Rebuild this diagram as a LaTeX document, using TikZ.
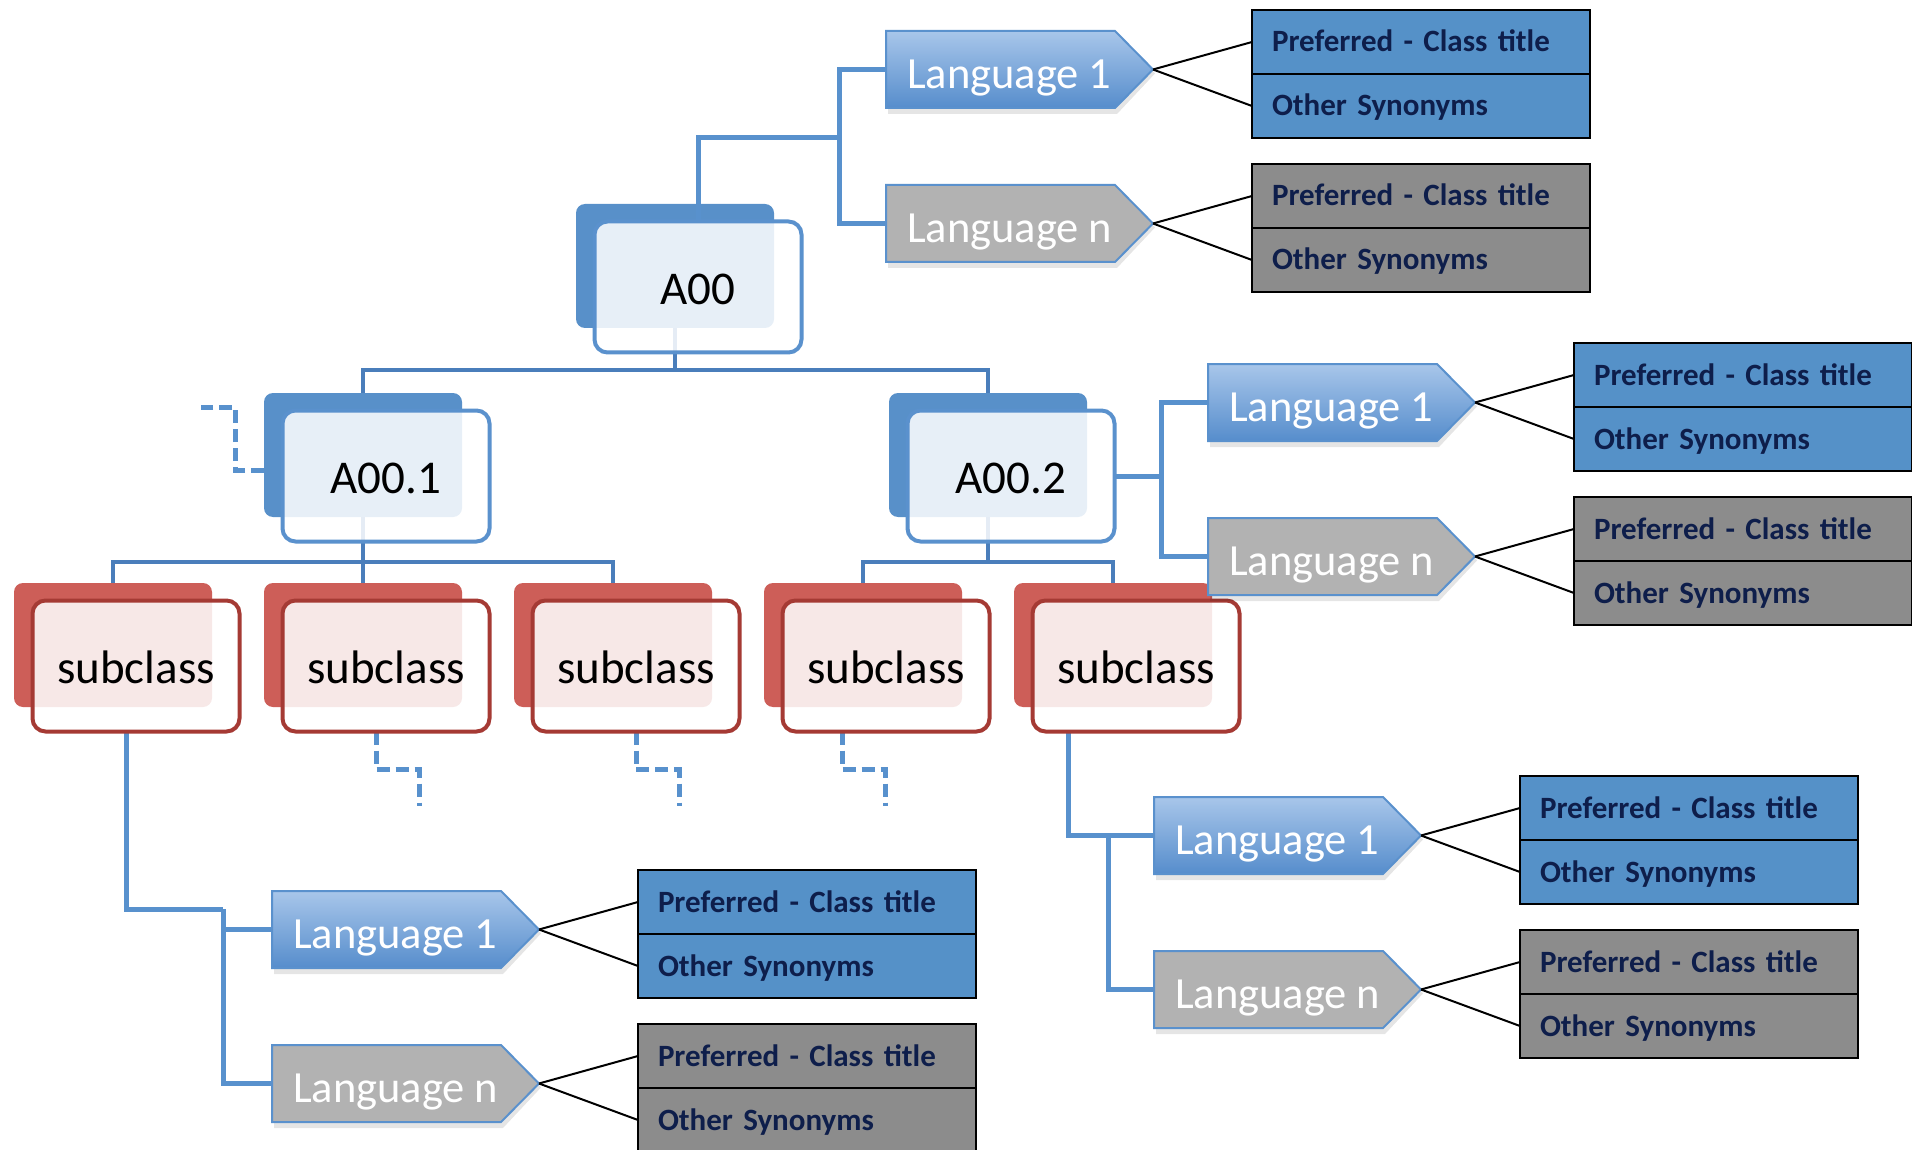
\documentclass[tikz,border=0pt]{standalone}
\usepackage{fontspec}
\setmainfont{Carlito}
\usetikzlibrary{calc}
\pgfdeclarelayer{bk}\pgfdeclarelayer{mid}
\pgfsetlayers{bk,mid,main}
\definecolor{bback}{RGB}{88,144,201}
\definecolor{bline}{RGB}{90,145,205}
\definecolor{rback}{RGB}{205,94,88}
\definecolor{rline}{RGB}{165,58,52}
\definecolor{hconncol}{RGB}{74,126,187}
\definecolor{lconncol}{RGB}{88,145,205}
\definecolor{tblue}{RGB}{85,145,200}
\definecolor{tgray}{RGB}{140,140,140}
\definecolor{navy}{RGB}{14,30,75}
\definecolor{lgtop}{RGB}{168,198,234}
\definecolor{lgbot}{RGB}{86,141,204}
\definecolor{lgray}{RGB}{178,178,178}
\tikzset{
 backbox/.style={rectangle, anchor=north west, minimum width=198pt, minimum height=124pt, inner sep=0pt, outer sep=0pt, rounded corners=9pt, draw=none},
 frontbox/.style={rectangle, anchor=north west, minimum width=207pt, minimum height=131pt, inner sep=0pt, outer sep=0pt, rounded corners=13pt, line width=4pt, fill=white, fill opacity=0.86, text opacity=1, font=\fontsize{47}{56}\selectfont, text=black, text height=35pt, text depth=0pt},
 hconn/.style={draw=hconncol, line width=4.5pt},
 lconn/.style={draw=lconncol, line width=5pt},
 dconn/.style={draw=lconncol, line width=5pt, dash pattern=on 13pt off 6pt},
 tipline/.style={draw=black, line width=2pt},
 cell/.style={rectangle, anchor=north west, minimum width=338pt, minimum height=64pt, inner xsep=20pt, inner ysep=0pt, outer sep=0pt, text width=298pt, align=left, draw=black, line width=2.5pt, text=navy, font=\fontsize{31}{36}\selectfont\bfseries, text height=20pt, text depth=0pt},
 langtxt/.style={anchor=base west, inner sep=0pt, outer sep=0pt, text=white, font=\fontsize{44.5}{52}\selectfont},
 pentone/.style={top color=lgtop, bottom color=lgbot, draw=bline, line width=2pt},
 pentn/.style={fill=lgray, draw=bline, line width=2pt},
 pshadow/.style={fill=black, fill opacity=0.10},
}
\newcommand{\mkpent}[3]{%
 \fill[pshadow] ({#2+2},{#3+4}) -- ({#2+231},{#3+4}) -- ({#2+269},{#3+42.5}) -- ({#2+231},{#3+83}) -- ({#2+2},{#3+83}) -- cycle;
 \path[#1] (#2,#3) -- ({#2+229},#3) -- ({#2+267},{#3+38.5}) -- ({#2+229},{#3+77}) -- (#2,{#3+77}) -- cycle;}
\newcommand{\mkgroup}[3]{%
 \mkpent{pentone}{#2}{#3}
 \node[langtxt] (#1la) at ({#2+21},{#3+57.5}) {Language 1};
 \coordinate (#1law) at (#2,{#3+38.5});
 \coordinate (#1lae) at ({#2+267},{#3+38.5});
 \node[cell, fill=tblue] (#1pa) at ({#2+366},{#3-21}) {Preferred - Class title};
 \node[cell, fill=tblue] (#1oa) at ({#2+366},{#3+43}) {Other Synonyms};
 \draw[tipline] (#1lae) -- (#1pa.west);
 \draw[tipline] (#1lae) -- (#1oa.west);
 \mkpent{pentn}{#2}{#3+154}
 \node[langtxt] (#1ln) at ({#2+21},{#3+211.5}) {Language n};
 \coordinate (#1lnw) at (#2,{#3+192.5});
 \coordinate (#1lne) at ({#2+267},{#3+192.5});
 \node[cell, fill=tgray] (#1pn) at ({#2+366},{#3+133}) {Preferred - Class title};
 \node[cell, fill=tgray] (#1on) at ({#2+366},{#3+197}) {Other Synonyms};
 \draw[tipline] (#1lne) -- (#1pn.west);
 \draw[tipline] (#1lne) -- (#1on.west);
}
\newcommand{\mkclassbox}[5]{%
 \begin{pgfonlayer}{bk}\node[backbox, fill=#5back] (#1b) at (#2,#3) {};\end{pgfonlayer}
 \node[frontbox, draw=#5line] (#1) at ({#2+18.5},{#3+17.5}) {#4};}
\begin{document}
\begin{tikzpicture}[x=1pt,y=-1pt]
\useasboundingbox (0,0) rectangle (1912,1150);
\begin{pgfonlayer}{bk}
\fill[white] (0,0) rectangle (1912,1150);
\end{pgfonlayer}
\clip (0,0) rectangle (1912,1150);
% class boxes
\mkclassbox{a00}{576}{204}{A00}{b}
\mkclassbox{a01}{264}{393}{A00.1}{b}
\mkclassbox{a02}{889}{393}{A00.2}{b}
\mkclassbox{s1}{14}{583}{subclass}{r}
\mkclassbox{s2}{264}{583}{subclass}{r}
\mkclassbox{s3}{514}{583}{subclass}{r}
\mkclassbox{s4}{764}{583}{subclass}{r}
\mkclassbox{s5}{1014}{583}{subclass}{r}
% language groups
\mkgroup{t}{886}{31}
\mkgroup{r}{1208}{364}
\mkgroup{bl}{272}{891}
\mkgroup{br}{1154}{797}
% junctions
\coordinate (tbus) at (839,138);
\coordinate (rbus) at (1161,472);
\coordinate (blbus) at (223,909);
\coordinate (brbus) at (1108,835.5);
\begin{pgfonlayer}{mid}
% hierarchy
\draw[hconn] (a00b.south) -- ++(0,42) -| (a01b.north);
\draw[hconn] (a00b.south) -- ++(0,42) -| (a02b.north);
\draw[hconn] (a01b.south) -- ++(0,45) -| (s1b.north);
\draw[hconn] (a01b.south) -- ++(0,45) -| (s2b.north);
\draw[hconn] (a01b.south) -- ++(0,45) -| (s3b.north);
\draw[hconn] (a02b.south) -- ++(0,45) -| (s4b.north);
\draw[hconn] (a02b.south) -- ++(0,45) -| (s5b.north);
% language links
\draw[lconn] (a00.north) |- (tbus);
\draw[lconn] (tbus) |- (tlaw);
\draw[lconn] (tbus) |- (tlnw);
\draw[lconn] (a02.east) -- (a02.east -| rbus);
\draw[lconn] (rbus) |- (rlaw);
\draw[lconn] (rbus) |- (rlnw);
\draw[lconn] ([xshift=-9.5pt]s1.south) |- (blbus);
\draw[lconn] (blbus) |- (bllaw);
\draw[lconn] (blbus) |- (bllnw);
\draw[lconn] ([xshift=-68pt]s5.south) |- (brlaw);
\draw[lconn] (brbus) |- (brlnw);
% dashed stubs
\draw[dconn] ([yshift=-15pt]a01b.west) -- ++(-29,0) -- ++(0,-63) -- ++(-34,0);
\draw[dconn] ([xshift=-9.5pt]s2.south) -- ++(0,38) -- ++(43,0) -- ++(0,36);
\draw[dconn] (s3.south) -- ++(0,38) -- ++(43,0) -- ++(0,36);
\draw[dconn] ([xshift=-43.5pt]s4.south) -- ++(0,38) -- ++(43,0) -- ++(0,36);
\end{pgfonlayer}
\end{tikzpicture}
\end{document}
